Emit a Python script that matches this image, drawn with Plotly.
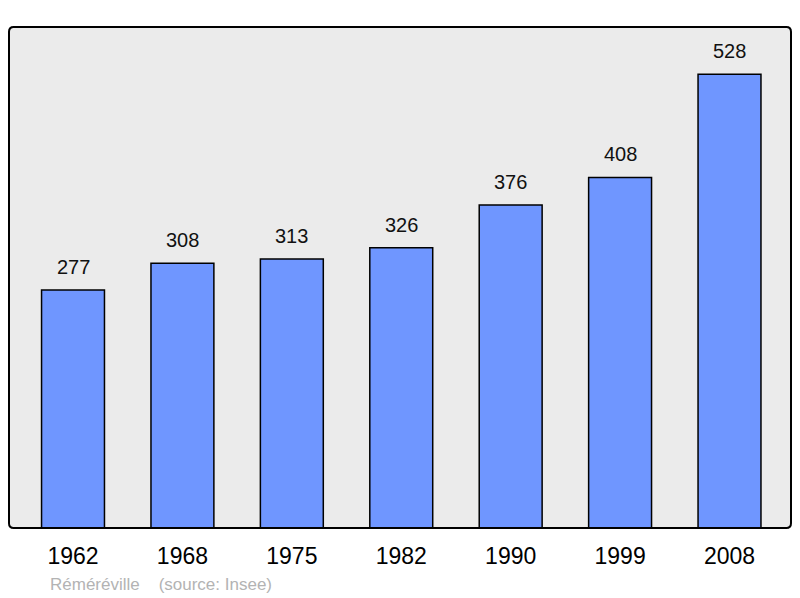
import plotly.graph_objects as go

years = ["1962", "1968", "1975", "1982", "1990", "1999", "2008"]
population = [277, 308, 313, 326, 376, 408, 528]
town = "Réméréville"
source = "(source: Insee)"

xs = list(range(len(years)))

fig = go.Figure()
fig.add_trace(go.Bar(
    x=xs, y=population, width=0.575,
    marker=dict(color="#6f96ff", line=dict(color="#000000", width=1.5)),
    hoverinfo="skip",
))

for x, v in zip(xs, population):
    fig.add_annotation(x=x, y=v, text=str(v), showarrow=False, yshift=23,
                       font=dict(family="Liberation Sans, Arial", size=20, color="#111"))

# rounded frame
r = 0.006
fig.add_shape(type="path", xref="paper", yref="paper",
              path=f"M {r} 0 L {1-r} 0 Q 1 0 1 {r*1.6} L 1 {1-r*1.6} Q 1 1 {1-r} 1 L {r} 1 Q 0 1 0 {1-r*1.6} L 0 {r*1.6} Q 0 0 {r} 0 Z",
              line=dict(color="#000", width=2), layer="above")

fig.add_annotation(xref="paper", yref="paper", x=0.0505, y=-0.112, xanchor="left", yanchor="middle",
                   text=f"{town}&nbsp;&nbsp;&nbsp;&nbsp;{source}", showarrow=False,
                   font=dict(family="Liberation Sans, Arial", size=17, color="#b3b3b3"))

fig.update_layout(
    width=784, height=590,
    margin=dict(l=1, r=1, t=19, b=70),
    paper_bgcolor="#ffffff", plot_bgcolor="#ebebeb",
    showlegend=False,
    xaxis=dict(range=[-0.585, 6.562], tickmode="array", tickvals=xs, ticktext=years,
               showgrid=False, zeroline=False, ticks="", showline=False,
               ticklabelstandoff=12,
               tickfont=dict(family="Liberation Sans, Arial", size=23, color="#000")),
    yaxis=dict(range=[0, 583], showgrid=False, zeroline=False, showticklabels=False,
               ticks="", showline=False),
)
fig.write_html("out.html")
